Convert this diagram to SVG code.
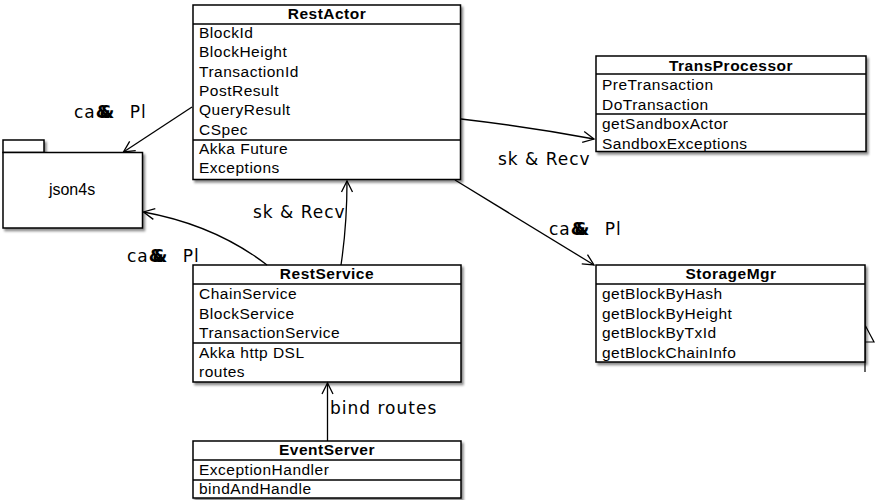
<svg xmlns="http://www.w3.org/2000/svg" width="885" height="500" viewBox="0 0 885 500">
<defs>
<filter id="sh" x="-5%" y="-5%" width="115%" height="120%">
<feDropShadow dx="2" dy="2.5" stdDeviation="1.2" flood-color="#000" flood-opacity="0.45"/>
</filter>
<marker id="arr" markerWidth="14" markerHeight="14" refX="12" refY="7" orient="auto" markerUnits="userSpaceOnUse">
<path d="M1,1.5 L12,7 L1,12.5" fill="none" stroke="#000" stroke-width="1.3"/>
</marker>
</defs>
<style>
.box{fill:#fff;stroke:#000;stroke-width:1.5}
.sep{stroke:#000;stroke-width:1.3}
.hd{font-family:"Liberation Sans",Arial,sans-serif;font-size:15.5px;font-weight:bold;letter-spacing:0.5px;text-anchor:middle}
.it{font-family:"Liberation Sans",Arial,sans-serif;font-size:15.5px;letter-spacing:0.5px}
.lbl{font-family:"DejaVu Sans",sans-serif;font-size:17px;letter-spacing:1px}
.amp{font-weight:bold;letter-spacing:-11px}
.cn{fill:none;stroke:#000;stroke-width:1.3;marker-end:url(#arr)}
</style>

<g id="json4s">
<rect class="box" x="3" y="140" width="41" height="12.5" filter="url(#sh)"/>
<rect class="box" x="3" y="152.5" width="139.5" height="75.5" filter="url(#sh)"/>
<text x="72" y="195" font-family="Liberation Sans,Arial,sans-serif" font-size="16" text-anchor="middle">json4s</text>
</g>

<g id="RestActor">
<rect class="box" x="193" y="5" width="267.5" height="174.5" filter="url(#sh)"/>
<line class="sep" x1="193" y1="24" x2="460.5" y2="24"/>
<line class="sep" x1="193" y1="140" x2="460.5" y2="140"/>
<text class="hd" x="327" y="19">RestActor</text>
<text class="it" x="199" y="38">BlockId</text>
<text class="it" x="199" y="57.3">BlockHeight</text>
<text class="it" x="199" y="76.6">TransactionId</text>
<text class="it" x="199" y="95.9">PostResult</text>
<text class="it" x="199" y="115.2">QueryResult</text>
<text class="it" x="199" y="134.5">CSpec</text>
<text class="it" x="199" y="154">Akka Future</text>
<text class="it" x="199" y="173.3">Exceptions</text>
</g>

<g id="TransProcessor">
<rect class="box" x="596" y="56" width="270" height="95.5" filter="url(#sh)"/>
<line class="sep" x1="596" y1="74" x2="866" y2="74"/>
<line class="sep" x1="596" y1="114" x2="866" y2="114"/>
<text class="hd" x="731" y="71">TransProcessor</text>
<text class="it" x="602" y="90">PreTransaction</text>
<text class="it" x="602" y="109.5">DoTransaction</text>
<text class="it" x="602" y="129">getSandboxActor</text>
<text class="it" x="602" y="148.5">SandboxExceptions</text>
</g>

<g id="StorageMgr">
<path d="M865,300 L865,372 M865,325 L874,342 L865,342" fill="none" stroke="#000" stroke-width="1.2"/>
<rect class="box" x="596" y="265" width="269" height="97" filter="url(#sh)"/>
<line class="sep" x1="596" y1="284" x2="865" y2="284"/>
<text class="hd" x="731" y="279">StorageMgr</text>
<text class="it" x="602" y="299">getBlockByHash</text>
<text class="it" x="602" y="318.5">getBlockByHeight</text>
<text class="it" x="602" y="338">getBlockByTxId</text>
<text class="it" x="602" y="357.5">getBlockChainInfo</text>
</g>

<g id="RestService">
<rect class="box" x="193" y="265" width="268" height="117" filter="url(#sh)"/>
<line class="sep" x1="193" y1="284" x2="461" y2="284"/>
<line class="sep" x1="193" y1="343" x2="461" y2="343"/>
<text class="hd" x="327" y="279">RestService</text>
<text class="it" x="199" y="299">ChainService</text>
<text class="it" x="199" y="318.5">BlockService</text>
<text class="it" x="199" y="338">TransactionService</text>
<text class="it" x="199" y="357.5">Akka http DSL</text>
<text class="it" x="199" y="377">routes</text>
</g>

<g id="EventServer">
<rect class="box" x="193" y="441" width="268" height="57" filter="url(#sh)"/>
<line class="sep" x1="193" y1="460" x2="461" y2="460"/>
<line class="sep" x1="193" y1="480" x2="461" y2="480"/>
<text class="hd" x="327" y="455">EventServer</text>
<text class="it" x="199" y="474.5">ExceptionHandler</text>
<text class="it" x="199" y="494">bindAndHandle</text>
</g>

<g id="connectors">
<path class="cn" d="M192,107 L123.5,152"/>
<path class="cn" d="M267,265 Q215,225 143.5,212"/>
<path class="cn" d="M341,265 Q347,225 347,181"/>
<path class="cn" d="M461,119 Q530,127 594,139"/>
<path class="cn" d="M455,180 L594,265"/>
<path class="cn" d="M327.5,441 L327.5,383"/>
<text class="lbl" x="74" y="118">ca<tspan class="amp">&amp;&amp;</tspan><tspan dx="20" letter-spacing="1"> Pl</tspan></text>
<text class="lbl" x="127" y="262">ca<tspan class="amp">&amp;&amp;</tspan><tspan dx="20" letter-spacing="1"> Pl</tspan></text>
<text class="lbl" x="549" y="235">ca<tspan class="amp">&amp;&amp;</tspan><tspan dx="20" letter-spacing="1"> Pl</tspan></text>
<text class="lbl" x="253" y="218">sk &amp; Recv</text>
<text class="lbl" x="498" y="165">sk &amp; Recv</text>
<text class="lbl" x="330" y="414">bind routes</text>
</g>
</svg>
